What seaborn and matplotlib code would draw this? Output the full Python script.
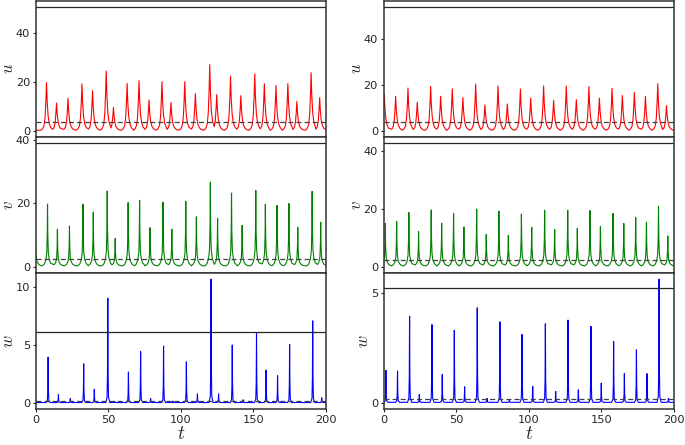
import numpy as np
import pandas as pd
import matplotlib
matplotlib.use("Agg")
import matplotlib.pyplot as plt
import seaborn as sns

# ---------------- data ----------------
# Left column: peak times and peak heights
tu_L = [7.5, 14.4, 22.3, 31.9, 39.2, 48.6, 53.6, 63.0, 71.2, 78.1, 87.0, 93.2, 102.7,
        110.0, 119.9, 124.7, 134.2, 141.3, 150.9, 157.5, 165.5, 173.7, 179.9, 189.7, 195.6]
hu_L = [19.8, 11.4, 13.3, 19.2, 16.4, 24.5, 9.5, 19.4, 20.5, 12.6, 20.1, 11.6, 20.1,
        15.2, 27.1, 14.8, 22.4, 14.4, 23.3, 19.3, 18.5, 19.3, 12.0, 23.8, 13.6]
tv_L = [-0.3, 8.2, 15.0, 23.3, 32.6, 39.7, 49.3, 54.8, 63.7, 71.6, 78.8, 87.7, 93.8,
        103.4, 110.7, 120.3, 125.3, 134.9, 142.2, 151.6, 158.2, 166.2, 174.4, 180.5, 190.4, 196.3]
hv_L = [15.0, 19.7, 11.8, 12.8, 19.7, 17.2, 23.8, 8.9, 20.2, 20.9, 12.3, 20.3, 11.8,
        20.6, 15.7, 26.6, 15.3, 23.2, 13.0, 24.0, 19.7, 19.3, 19.9, 12.4, 23.7, 14.0]
tw_L = [8.6, 15.7, 23.9, 33.1, 40.4, 49.7, 54.5, 63.9, 72.3, 79.2, 88.1, 94.5, 103.8,
        111.4, 120.8, 126.0, 135.4, 142.9, 152.1, 158.7, 166.6, 174.9, 181.0, 190.8, 197.0]
hw_L = [3.95, 0.71, 0.37, 3.37, 1.17, 9.06, 0.12, 2.66, 4.43, 0.37, 4.91, 0.15, 3.54,
        0.77, 10.7, 0.77, 5.0, 0.26, 6.0, 2.83, 2.34, 5.03, 0.12, 7.09, 0.43]

# Right column
tu_R = [0.5, 8.3, 16.8, 23.2, 32.4, 39.3, 47.3, 54.6, 63.4, 69.8, 78.8, 85.2, 94.2,
        101.3, 110.2, 117.1, 125.8, 132.7, 141.4, 148.6, 157.3, 164.4, 172.7, 180.3, 188.8, 194.8]
hu_R = [16.0, 15.1, 18.7, 12.5, 19.4, 15.1, 18.3, 14.5, 20.4, 11.3, 19.6, 11.7, 18.3,
        14.3, 19.6, 13.3, 19.6, 13.6, 19.3, 14.3, 18.6, 15.4, 16.7, 15.0, 20.6, 11.0]
tv_R = [1.2, 9.0, 17.4, 24.1, 32.8, 40.0, 48.2, 55.3, 64.1, 70.7, 79.4, 85.9, 94.9,
        102.0, 110.9, 117.8, 126.8, 133.4, 142.1, 149.3, 158.0, 165.4, 173.6, 181.0, 189.3, 195.7]
hv_R = [15.0, 15.7, 18.8, 12.2, 19.7, 15.1, 18.5, 13.8, 20.0, 11.2, 19.3, 10.9, 18.3,
        13.7, 19.6, 12.9, 19.6, 13.3, 19.5, 14.0, 18.5, 15.0, 17.1, 15.5, 20.9, 10.7]
tw_R = [1.6, 9.6, 17.9, 24.6, 33.3, 40.4, 48.7, 55.8, 64.5, 71.2, 80.1, 86.6, 95.3,
        102.7, 111.4, 118.5, 127.0, 134.1, 142.8, 149.9, 158.4, 165.8, 174.1, 181.4, 189.7, 196.1]
hw_R = [1.48, 1.45, 3.96, 0.38, 3.57, 1.29, 3.31, 0.73, 4.34, 0.2, 3.7, 0.15, 3.12,
        0.75, 3.61, 0.52, 3.78, 0.59, 3.49, 0.9, 2.8, 1.33, 2.42, 1.33, 5.65, 0.2]

# baseline (trough) levels
base_u = 0.2
base_v = 0.3
base_w = 0.02

# typical spike shape (time offset, fraction of height)
shape_dt_u = [-4.0, -2.7, -1.7, -1.0, -0.45, 0.0, 0.45, 1.1, 1.9, 2.9, 4.0, 5.0]
shape_fr_u = [0.0, 0.03, 0.1, 0.27, 0.6, 1.0, 0.6, 0.3, 0.14, 0.06, 0.02, 0.0]
shape_dt_v = [-3.5, -2.2, -1.2, -0.55, -0.2, 0.0, 0.2, 0.55, 1.2, 2.2, 3.5, 4.5]
shape_fr_v = [0.0, 0.03, 0.09, 0.2, 0.5, 1.0, 0.5, 0.22, 0.1, 0.04, 0.01, 0.0]
shape_dt_w = [-1.4, -0.5, -0.2, 0.0, 0.2, 0.5, 1.4]
shape_fr_w = [0.0, 0.05, 0.3, 1.0, 0.3, 0.05, 0.0]

# reference levels drawn in each panel
dash_L = [3.5, 2.4, 0.13]
line_L = [50.7, 38.9, 6.14]
dash_R = [3.9, 2.3, 0.15]
line_R = [54.1, 42.9, 5.26]

t_start, t_end = 0, 200
x_ticks = [0, 50, 100, 150, 200]
y_ticks_L = [[0, 20, 40], [0, 20, 40], [0, 5, 10]]
y_ticks_R = [[0, 20, 40], [0, 20, 40], [0, 5]]
ylabels = ["$u$", "$v$", "$w$"]


def spike_train(times, heights, base, sdt, sfr):
    ts, ys = [t_start - 5], [base]
    for i, (tp, h) in enumerate(zip(times, heights)):
        lo = (times[i - 1] + tp) / 2 if i > 0 else -np.inf
        hi = (times[i + 1] + tp) / 2 if i < len(times) - 1 else np.inf
        for d, f in zip(sdt, sfr):
            if lo <= tp + d < hi:
                ts.append(tp + d)
                ys.append(base + f * (h - base))
    ts.append(t_end + 5)
    ys.append(base)
    return pd.DataFrame({"t": ts, "val": ys})


sns.set_style("ticks")
plt.rcParams["mathtext.fontset"] = "cm"
plt.rcParams["font.family"] = ["DejaVu Sans"]

fig, axes = plt.subplots(3, 2, figsize=(6.85, 4.45), dpi=100, sharex="col",
                         gridspec_kw=dict(left=0.052, right=0.984, top=0.998,
                                          bottom=0.081, hspace=0.0, wspace=0.198))

cols = [
    ([(tu_L, hu_L, base_u, shape_dt_u, shape_fr_u),
      (tv_L, hv_L, base_v, shape_dt_v, shape_fr_v),
      (tw_L, hw_L, base_w, shape_dt_w, shape_fr_w)], dash_L, line_L, y_ticks_L),
    ([(tu_R, hu_R, base_u, shape_dt_u, shape_fr_u),
      (tv_R, hv_R, base_v, shape_dt_v, shape_fr_v),
      (tw_R, hw_R, base_w, shape_dt_w, shape_fr_w)], dash_R, line_R, y_ticks_R),
]
colors = ["red", "green", "blue"]

for c, (series, dashes, lines, yt) in enumerate(cols):
    for r in range(3):
        ax = axes[r, c]
        times, heights, base, sdt, sfr = series[r]
        df = spike_train(times, heights, base, sdt, sfr)
        sns.lineplot(data=df, x="t", y="val", ax=ax, color=colors[r], lw=0.8,
                     estimator=None, sort=False)
        ax.axhline(dashes[r], color="0.25", lw=0.9, ls="--", dashes=(4, 2.5))
        ax.axhline(lines[r], color="0.15", lw=0.9)
        top = max(lines[r], max(heights))
        ax.set_ylim(-0.05 * top, 1.05 * top)
        ax.set_xlim(t_start, t_end)
        ax.set_yticks(yt[r])
        ax.set_ylabel(ylabels[r], fontsize=12, labelpad=-1)
        ax.set_xlabel("")
        ax.tick_params(axis="both", labelsize=8.2, length=2.5, width=0.8, pad=1.5,
                       colors="0.15")
        for s in ax.spines.values():
            s.set_color("0.2")
            s.set_linewidth(1.1)
        if r < 2:
            ax.tick_params(axis="x", length=0, labelbottom=False)
    axes[2, c].set_xticks(x_ticks)
    axes[2, c].set_xlabel("$t$", fontsize=14, labelpad=-0.5)

fig.savefig("out.png", dpi=100)
